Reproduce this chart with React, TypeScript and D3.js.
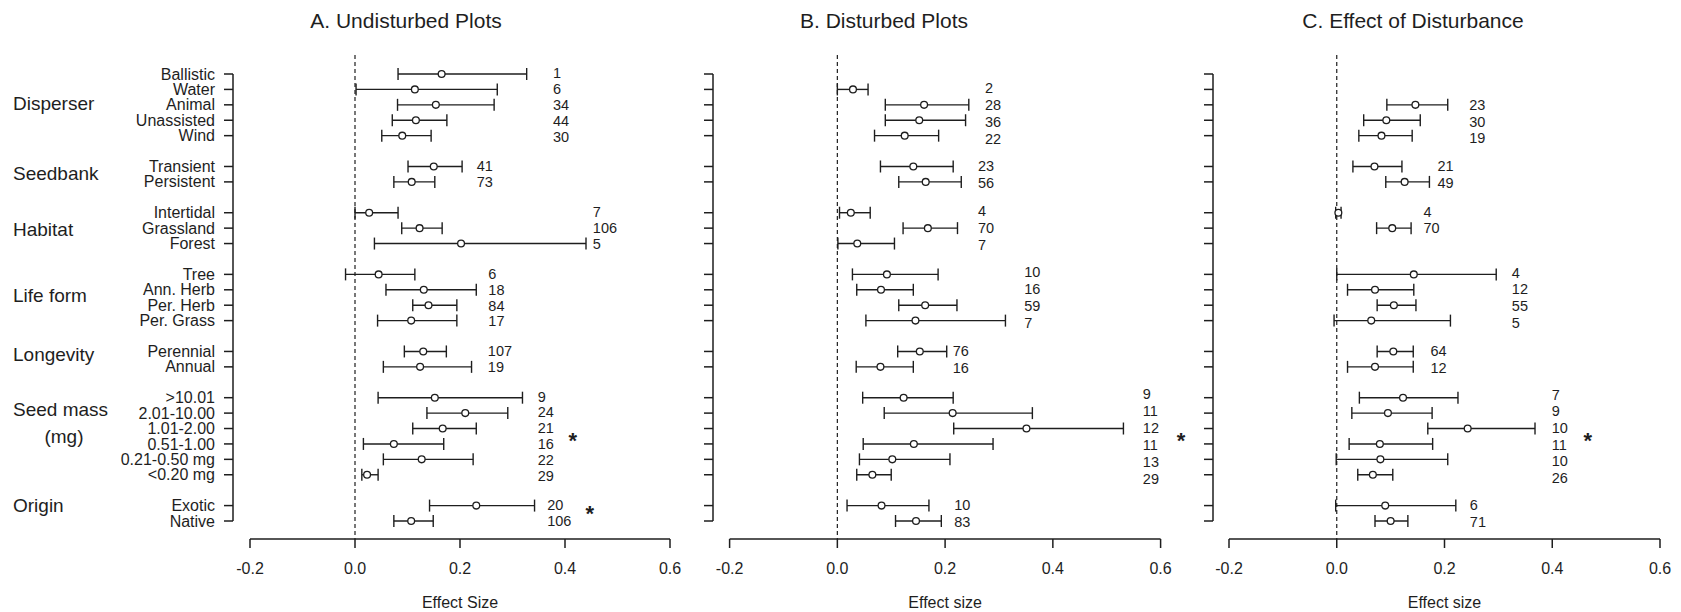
import React from "react";
import * as d3 from "d3";

// ---------- data ----------
const groupNames = ["Disperser", "Seedbank", "Habitat", "Life form", "Longevity", "Seed mass", "Origin"];
const groupCategories = [
  ["Ballistic", "Water", "Animal", "Unassisted", "Wind"],
  ["Transient", "Persistent"],
  ["Intertidal", "Grassland", "Forest"],
  ["Tree", "Ann. Herb", "Per. Herb", "Per. Grass"],
  ["Perennial", "Annual"],
  [">10.01", "2.01-10.00", "1.01-2.00", "0.51-1.00", "0.21-0.50 mg", "<0.20 mg"],
  ["Exotic", "Native"],
];

const panelTitles = ["A. Undisturbed Plots", "B. Disturbed Plots", "C. Effect of Disturbance"];
const axisTitles = ["Effect Size", "Effect size", "Effect size"];
const xTicks = [-0.2, 0.0, 0.2, 0.4, 0.6];
const xTickLabels = ["-0.2", "0.0", "0.2", "0.4", "0.6"];

// Panel A: Undisturbed
const meanA = [0.165, 0.114, 0.154, 0.116, 0.090, 0.150, 0.108, 0.027, 0.123, 0.202, 0.045, 0.131, 0.140, 0.107, 0.130, 0.124, 0.152, 0.210, 0.167, 0.074, 0.127, 0.023, 0.231, 0.107];
const lowA = [0.082, 0.002, 0.081, 0.071, 0.051, 0.101, 0.074, 0.000, 0.089, 0.037, -0.018, 0.059, 0.110, 0.043, 0.094, 0.054, 0.044, 0.137, 0.110, 0.016, 0.054, 0.013, 0.142, 0.074];
const highA = [0.327, 0.271, 0.265, 0.175, 0.145, 0.204, 0.152, 0.082, 0.166, 0.440, 0.114, 0.231, 0.194, 0.194, 0.174, 0.222, 0.319, 0.291, 0.231, 0.169, 0.225, 0.044, 0.342, 0.149];
const nA = [1, 6, 34, 44, 30, 41, 73, 7, 106, 5, 6, 18, 84, 17, 107, 19, 9, 24, 21, 16, 22, 29, 20, 106];

// Panel B: Disturbed
const meanB = [null, 0.029, 0.161, 0.152, 0.125, 0.141, 0.164, 0.025, 0.168, 0.037, 0.092, 0.081, 0.163, 0.145, 0.153, 0.080, 0.123, 0.214, 0.351, 0.142, 0.102, 0.065, 0.082, 0.146];
const lowB = [null, 0.000, 0.089, 0.089, 0.069, 0.080, 0.114, 0.004, 0.122, 0.001, 0.028, 0.036, 0.114, 0.053, 0.112, 0.035, 0.047, 0.087, 0.216, 0.048, 0.041, 0.036, 0.018, 0.108];
const highB = [null, 0.057, 0.244, 0.238, 0.188, 0.215, 0.230, 0.061, 0.223, 0.106, 0.187, 0.141, 0.222, 0.312, 0.203, 0.141, 0.215, 0.362, 0.531, 0.289, 0.209, 0.100, 0.170, 0.193];
const nB = [null, 2, 28, 36, 22, 23, 56, 4, 70, 7, 10, 16, 59, 7, 76, 16, 9, 11, 12, 11, 13, 29, 10, 83];

// Panel C: Effect of disturbance
const meanC = [null, null, 0.146, 0.092, 0.083, 0.070, 0.126, 0.003, 0.103, null, 0.143, 0.071, 0.106, 0.064, 0.105, 0.071, 0.123, 0.095, 0.243, 0.080, 0.081, 0.067, 0.090, 0.100];
const lowC = [null, null, 0.093, 0.050, 0.041, 0.030, 0.091, -0.002, 0.074, null, 0.000, 0.020, 0.075, -0.005, 0.075, 0.020, 0.042, 0.028, 0.169, 0.023, -0.001, 0.039, -0.002, 0.071];
const highC = [null, null, 0.206, 0.155, 0.140, 0.121, 0.172, 0.008, 0.138, null, 0.296, 0.143, 0.147, 0.211, 0.142, 0.142, 0.225, 0.177, 0.368, 0.178, 0.206, 0.104, 0.221, 0.132];
const nC = [null, null, 23, 30, 19, 21, 49, 4, 70, null, 4, 12, 55, 5, 64, 12, 7, 9, 10, 11, 10, 26, 6, 71];

// x position (in effect-size units) of the sample-size column, per group
const nPosA = [0.377, 0.232, 0.453, 0.254, 0.253, 0.348, 0.366];
const nPosB = [0.274, 0.261, 0.261, 0.347, 0.214, 0.567, 0.217];
const nPosC = [0.246, 0.187, 0.161, 0.325, 0.174, 0.399, 0.247];

// significance asterisks: [group index, x in effect-size units]
const starsA = [[5, 0.415], [6, 0.447]];
const starsB = [[5, 0.638]];
const starsC = [[5, 0.466]];

// ---------- layout ----------
const W = 1681;
const H = 612;
const FONT = "'Liberation Sans', Arial, Helvetica, sans-serif";
const INK = "#1e1e1e";
const rowTop = 74;
const rowBottom = 521;
const axisY = 539;
const dashTop = 55;

const panels = [
  { axisX: 233, x0: 250, x1: 670, titleX: 406, mean: meanA, low: lowA, high: highA, n: nA, nPos: nPosA, stars: starsA, spread: 1.03 },
  { axisX: 713, x0: 729.6, x1: 1160.6, titleX: 884, mean: meanB, low: lowB, high: highB, n: nB, nPos: nPosB, stars: starsB, spread: 1.1 },
  { axisX: 1213, x0: 1229, x1: 1660, titleX: 1413, mean: meanC, low: lowC, high: highC, n: nC, nPos: nPosC, stars: starsC, spread: 1.08 },
];

// group label positions in row units
const groupLabelRows = [1.88, 6.42, 10.05, 14.37, 18.16, 21.77, 27.97];
const mgLabelRow = 23.54;

// build flat rows with a blank slot between groups
type Row = { cat: string; group: number; pos: number; idx: number };
const rows: Row[] = [];
{
  let pos = 0;
  let idx = 0;
  groupCategories.forEach((cats, g) => {
    cats.forEach((c) => {
      rows.push({ cat: c, group: g, pos, idx });
      pos += 1;
      idx += 1;
    });
    pos += 1;
  });
}
const maxPos = rows[rows.length - 1].pos;
const y = d3.scaleLinear().domain([0, maxPos]).range([rowTop, rowBottom]);

function groupMid(g: number) {
  const rs = rows.filter((r) => r.group === g);
  return (y(rs[0].pos) + y(rs[rs.length - 1].pos)) / 2;
}

function Panel({ p, pi }: { p: (typeof panels)[number]; pi: number }) {
  const x = d3.scaleLinear().domain([-0.2, 0.6]).range([p.x0, p.x1]);
  const cap = 6;
  return (
    <g>
      <text x={p.titleX} y={28} fontSize={21} textAnchor="middle" fill={INK}>
        {panelTitles[pi]}
      </text>
      {/* y axis */}
      <line x1={p.axisX} x2={p.axisX} y1={y(0)} y2={y(maxPos)} stroke={INK} strokeWidth={1.5} />
      {rows.map((r) => (
        <line key={"yt" + r.idx} x1={p.axisX - 9} x2={p.axisX} y1={y(r.pos)} y2={y(r.pos)} stroke={INK} strokeWidth={1.5} />
      ))}
      {pi === 0 &&
        rows.map((r) => (
          <text key={"yl" + r.idx} x={p.axisX - 18} y={y(r.pos)} dy="0.35em" fontSize={16} textAnchor="end" fill={INK}>
            {r.cat}
          </text>
        ))}
      {/* zero line */}
      <line x1={x(0)} x2={x(0)} y1={dashTop} y2={axisY} stroke={INK} strokeWidth={1.2} strokeDasharray="4,3" />
      {/* x axis */}
      <line x1={x(-0.2)} x2={x(0.6)} y1={axisY} y2={axisY} stroke={INK} strokeWidth={1.5} />
      {xTicks.map((t, i) => (
        <g key={"xt" + i}>
          <line x1={x(t)} x2={x(t)} y1={axisY} y2={axisY + 9} stroke={INK} strokeWidth={1.5} />
          <text x={x(t)} y={574} fontSize={16} textAnchor="middle" fill={INK}>
            {xTickLabels[i]}
          </text>
        </g>
      ))}
      <text x={x(0.2)} y={608} fontSize={16} textAnchor="middle" fill={INK}>
        {axisTitles[pi]}
      </text>
      {/* error bars */}
      {rows.map((r) => {
        const m = p.mean[r.idx];
        const lo = p.low[r.idx];
        const hi = p.high[r.idx];
        if (m === null || lo === null || hi === null) return null;
        const yy = y(r.pos);
        return (
          <g key={"eb" + r.idx} stroke={INK} fill="none" strokeWidth={1.4}>
            <line x1={x(lo)} x2={x(hi)} y1={yy} y2={yy} />
            <line x1={x(lo)} x2={x(lo)} y1={yy - cap} y2={yy + cap} />
            <line x1={x(hi)} x2={x(hi)} y1={yy - cap} y2={yy + cap} />
            <circle cx={x(m)} cy={yy} r={3.4} fill="white" strokeWidth={1.3} />
          </g>
        );
      })}
      {/* sample sizes */}
      {rows.map((r) => {
        const n = p.n[r.idx];
        if (n === null) return null;
        const mid = groupMid(r.group);
        const yy = mid + (y(r.pos) - mid) * p.spread;
        return (
          <text key={"n" + r.idx} x={x(p.nPos[r.group])} y={yy} dy="0.35em" fontSize={14.5} fill={INK}>
            {n}
          </text>
        );
      })}
      {/* asterisks */}
      {p.stars.map(([g, sx], i) => {
        const cy = g === 6 ? y(rows.filter((r) => r.group === g)[0].pos) + 3.5 : groupMid(g);
        return (
          <text key={"s" + i} x={x(sx)} y={cy + 12} fontSize={22} textAnchor="middle" fill={INK} fontWeight="bold">
            *
          </text>
        );
      })}
    </g>
  );
}

export default function App() {
  return (
    <svg
      width={W}
      height={H}
      viewBox={`0 0 ${W} ${H}`}
      style={{ position: "absolute", left: 0, top: 0, display: "block", background: "white" }}
      fontFamily={FONT}
    >
      <rect x={0} y={0} width={W} height={H} fill="white" />
      {groupNames.map((g, i) => (
        <text key={"g" + i} x={13} y={y(groupLabelRows[i])} dy="0.35em" fontSize={19} fill={INK}>
          {g}
        </text>
      ))}
      <text x={64} y={y(mgLabelRow)} dy="0.35em" fontSize={19} textAnchor="middle" fill={INK}>
        (mg)
      </text>
      {panels.map((p, i) => (
        <Panel key={i} p={p} pi={i} />
      ))}
    </svg>
  );
}
